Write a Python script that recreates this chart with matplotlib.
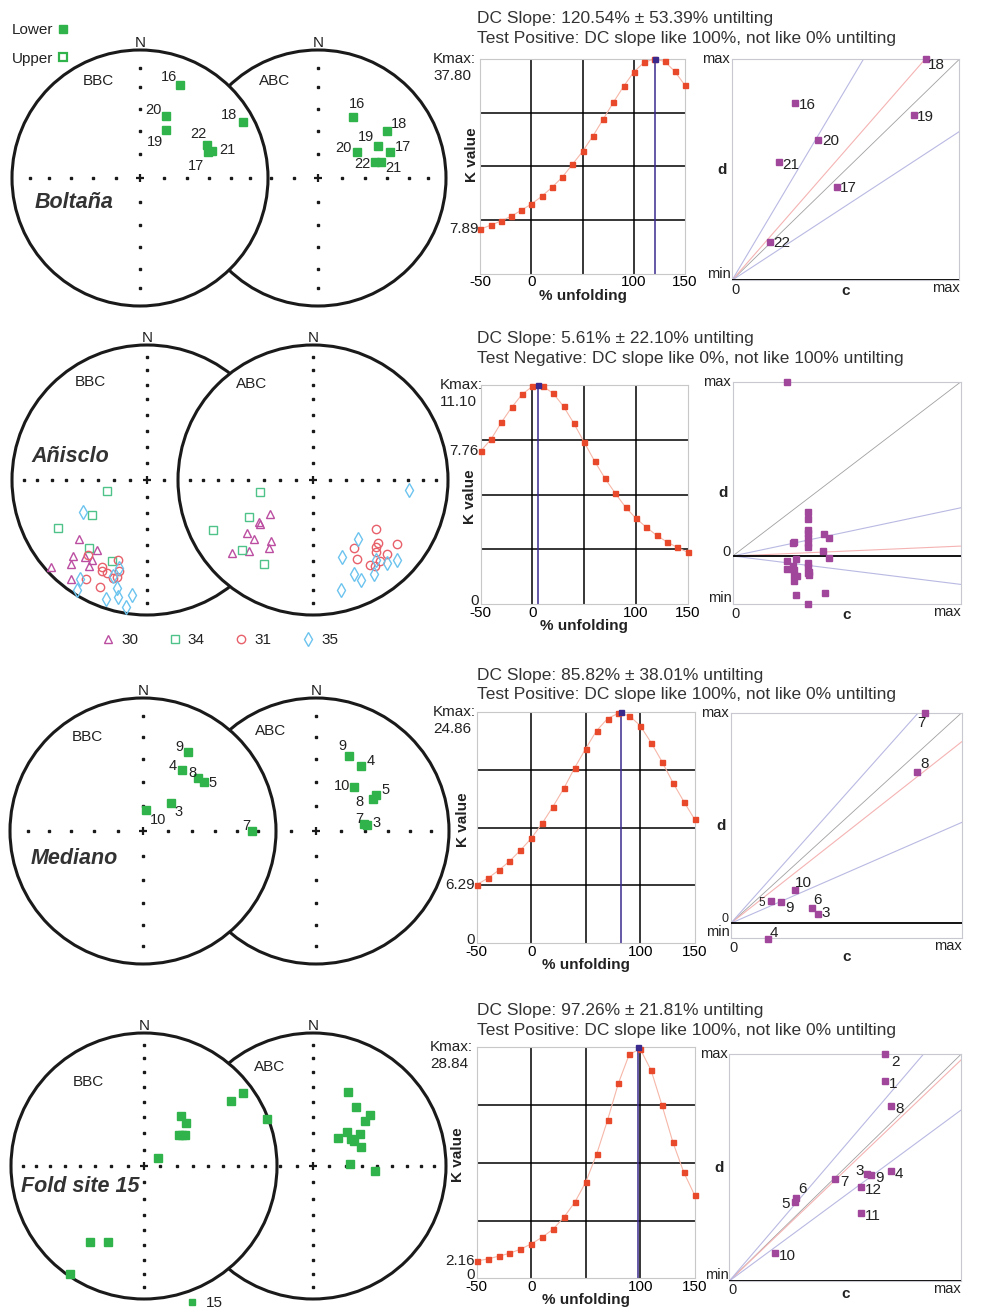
import numpy as np
import matplotlib.pyplot as plt
from matplotlib.patches import Circle
from matplotlib.lines import Line2D

plt.rcParams['font.family'] = ['Liberation Sans', 'DejaVu Sans']
plt.rcParams['text.color'] = '#222222'

W, H = 990, 1309

GREEN = '#2fb34a'
RED = '#e8492b'
PINK = '#f6b7a8'
NAVY = '#3b2a8e'
PURPLE = '#a0469b'
INK = '#1a1a1a'
C30, C34, C31, C35 = '#bb4ea0', '#4fc28a', '#e8606a', '#6cc4ee'

# ---------------- data ----------------
unfold = [-50, -40, -30, -20, -10, 0, 10, 20, 30, 40, 50, 60, 70, 80, 90, 100, 110, 120, 130, 140, 150]

# Boltaña
bol_ids = ['16', '20', '19', '18', '22', '21', '17']
bol_bbc_dec = [23.5, 22.9, 28.8, 61.4, 63.7, 69.4, 69.3]
bol_bbc_inc = [22.1, 46.1, 54.8, 9.5, 41.5, 39.7, 42.6]
bol_abc_dec = [30.0, 56.4, 61.4, 55.4, 74.0, 75.6, 70.5]
bol_abc_inc = [44.4, 59.7, 46.0, 35.1, 52.1, 47.7, 40.0]
bol_k = [7.89, 8.54, 9.30, 10.12, 11.18, 12.29, 13.63, 15.21, 16.97, 19.25, 21.53,
         24.22, 27.15, 30.13, 32.94, 35.46, 37.16, 37.75, 37.33, 35.57, 33.12]
bol_kmax, bol_peak = 37.80, 120.54
bol_dc_ids = ['18', '16', '19', '20', '21', '17', '22']
bol_dc_c = [0.852, 0.279, 0.801, 0.378, 0.207, 0.462, 0.166]
bol_dc_d = [1.0, 0.802, 0.748, 0.636, 0.535, 0.422, 0.175]

# Añisclo (upper hemisphere, sites 30, 34, 31, 35)
ani30_bbc_dec = [229, 215.3, 224.1, 218.7, 214.5, 222.2, 213.8, 227.6, 217.2]
ani30_bbc_inc = [-33.3, -36.6, -22.4, -27.5, -28.9, -17.3, -24.3, -4.4, -8.3]
ani34_bbc_dec = [254.8, 237.5, 241.8, 220.2, 203.6]
ani34_bbc_inc = [-64.7, -50.1, -26.0, -34.2, -34.9]
ani31_bbc_dec = [218.1, 199.8, 207.4, 206.2, 203.0, 197.4, 199.1, 211.7, 203.9, 197.4]
ani31_bbc_inc = [-29.8, -37.4, -28.5, -26.0, -25.8, -30.3, -24.5, -15.0, -14.5, -25.8]
ani35_bbc_dec = [243.1, 197.6, 214.2, 199.4, 212.3, 195.4, 199.2, 193.7, 187.4, 189.2]
ani35_bbc_inc = [-46.0, -32.0, -12.7, -25.5, -3.8, -18.2, -7.6, -11.6, -15.2, -4.9]
ani30_abc_dec = [232.1, 232.1, 230.6, 231.1, 225.3, 214.3, 213.0, 228.1, 222.2]
ani30_abc_inc = [-56.5, -48.3, -47.6, -37.2, -38.0, -44.4, -39.6, -20.4, -30.0]
ani34_abc_dec = [257.0, 240.2, 243.4, 225.2, 210.3]
ani34_abc_inc = [-57.0, -44.2, -18.4, -26.8, -29.0]
ani31_abc_dec = [127.8, 134.3, 127.3, 149.0, 136.6, 138.8, 135.2, 150.8, 140.6, 146.1, 144.4]
ani31_abc_inc = [-40.5, -33.4, -23.0, -40.6, -32.4, -29.8, -23.6, -33.2, -23.3, -25.0, -22.7]
ani35_abc_dec = [96.0, 142.6, 159.3, 141.5, 138.3, 133.3, 156.3, 147.1, 154.5, 165.5]
ani35_abc_inc = [-29.6, -44.3, -38.9, -25.7, -18.9, -15.1, -25.2, -18.4, -19.0, -16.9]
ani_k = [7.76, 8.35, 9.21, 9.97, 10.63, 11.03, 11.03, 10.68, 10.02, 9.16, 8.20,
         7.25, 6.38, 5.62, 4.91, 4.35, 3.90, 3.49, 3.15, 2.88, 2.63]
ani_kmax, ani_peak = 11.10, 5.61
ani_dc_c = [0.236, 0.328, 0.328, 0.328, 0.328, 0.328, 0.328, 0.328, 0.269, 0.263,
            0.401, 0.423, 0.397, 0.423, 0.236, 0.236, 0.276, 0.266, 0.270, 0.269,
            0.280, 0.270, 0.328, 0.328, 0.336, 0.328, 0.336, 0.279, 0.404, 0.328]
ani_dc_d = [1.0, 0.254, 0.210, 0.149, 0.130, 0.101, 0.076, 0.054, 0.082, 0.076,
            0.128, 0.105, 0.031, -0.010, -0.027, -0.076, -0.019, -0.057, -0.080, -0.109,
            -0.115, -0.141, -0.038, -0.065, -0.090, -0.099, -0.109, -0.224, -0.210, -0.277]

# Mediano
med_ids = ['9', '4', '8', '5', '3', '10', '7']
med_bbc_dec = [29.9, 32.3, 46.3, 51.4, 44.6, 9.3, 90.0]
med_bbc_inc = [32.2, 44.7, 41.9, 40.7, 65.8, 77.2, 18.8]
med_abc_dec = [23.7, 34.9, 60.8, 59.0, 83.3, 40.7, 81.7]
med_abc_inc = [38.3, 40.2, 49.6, 46.3, 58.4, 53.9, 59.8]
med_k = [6.29, 6.97, 7.82, 8.79, 9.97, 11.25, 12.86, 14.68, 16.64, 18.86, 20.90,
         22.82, 24.11, 24.70, 24.43, 23.36, 21.54, 19.50, 17.25, 15.22, 13.29]
med_kmax, med_peak = 24.86, 82.0
med_dc_ids = ['7', '8', '10', '5', '9', '6', '3', '4']
med_dc_c = [0.843, 0.808, 0.277, 0.175, 0.218, 0.354, 0.378, 0.160]
med_dc_d = [1.0, 0.720, 0.158, 0.108, 0.103, 0.073, 0.044, -0.073]

# Fold site 15
fold_bbc_dec = [53.8, 53.3, 68.9, 36.6, 44.3, 49.0, 53.1, 50.6, 60.9, 215.5, 205.4, 214.3]
fold_bbc_inc = [8.1, 19.9, 1.1, 51.5, 53.0, 61.2, 58.3, 59.6, 79.9, 30.8, 36.9, 2.1]
fold_abc_dec = [25.1, 36.1, 47.9, 48.8, 45.2, 55.7, 41.4, 55.2, 58.7, 68.4, 86.9, 94.9]
fold_abc_inc = [38.4, 44.4, 41.9, 47.0, 60.4, 55.0, 66.7, 61.2, 60.5, 57.8, 67.4, 51.2]
fold_k = [2.16, 2.41, 2.75, 3.12, 3.62, 4.29, 5.12, 6.12, 7.62, 9.49, 11.99,
          15.48, 19.73, 24.35, 27.97, 28.63, 25.97, 21.60, 16.98, 13.23, 10.36]
fold_kmax, fold_peak = 28.84, 98.2
fold_dc_ids = ['2', '1', '8', '4', '3', '9', '7', '12', '6', '5', '11', '10']
fold_dc_c = [0.671, 0.671, 0.699, 0.699, 0.593, 0.613, 0.458, 0.567, 0.286, 0.285, 0.567, 0.199]
fold_dc_d = [1.0, 0.884, 0.774, 0.485, 0.474, 0.469, 0.451, 0.416, 0.365, 0.349, 0.300, 0.124]

# DC slope lines (d/c of fit and bounds)
dc_fit = [1.178, 0.057, 0.862, 0.975]
dc_lo = [0.673, -0.163, 0.479, 0.754]
dc_hi = [1.73, 0.277, 1.231, 1.194]
dc_dmin = [0.0, -0.277, -0.071, 0.0]

titles = [('DC Slope: 120.54% ± 53.39% untilting', 'Test Positive: DC slope like 100%, not like 0% untilting'),
          ('DC Slope: 5.61% ± 22.10% untilting', 'Test Negative: DC slope like 0%, not like 100% untilting'),
          ('DC Slope: 85.82% ± 38.01% untilting', 'Test Positive: DC slope like 100%, not like 0% untilting'),
          ('DC Slope: 97.26% ± 21.81% untilting', 'Test Positive: DC slope like 100%, not like 0% untilting')]

# label offsets (points)
bol_bbc_off = {'16': (-8, 6), '20': (-9, 4), '19': (-8, -8.5), '18': (-10, 5), '22': (-6, 7.7), '21': (11, 0.7), '17': (-8.6, -9.6)}
bol_abc_off = {'16': (3, 9.6), '20': (-10.3, 2.4), '19': (-8.6, 6.3), '18': (9.1, 4.5), '22': (-8.9, -1.9), '21': (8.9, -4.3), '17': (9.1, 3.6)}
med_bbc_off = {'9': (-6.7, 4.1), '4': (-6.2, 2.6), '8': (-4.3, 3.4), '5': (6.2, -1), '3': (6, -6.7), '10': (8.6, -6.7), '7': (-4.3, 3.8)}
med_abc_off = {'9': (-4.8, 7.2), '4': (6.7, 3.6), '8': (-9.6, -1.7), '5': (7, 3.6), '3': (6.7, 1.2), '10': (-8.9, 0.5), '7': (-3.8, 3.4)}
bol_dc_off = {'18': (7.4, -3.8), '16': (8.9, -1.7), '19': (8.4, -1.7), '20': (9.1, -0.7), '21': (8.6, -2.2), '17': (8.4, -0.7), '22': (8.9, -0.7)}
med_dc_off = {'7': (-3.1, -7.7), '8': (5, 5.5), '10': (6.2, 4.8), '5': (-6.7, -1.9), '9': (6, -4.8), '6': (3.8, 5.8), '3': (5.3, 1), '4': (4.3, 3.8)}
fold_dc_off = {'2': (7.4, -5.5), '1': (5.8, -2.2), '8': (5.8, -2.4), '4': (5.8, -2.4), '3': (-5.3, 1.9), '9': (5.8, -2.2),
               '7': (6.2, -2.2), '12': (9.1, -2.4), '6': (5, 6.5), '5': (-7.2, -1.7), '11': (8.6, -2.2), '10': (8.6, -2.4)}

# ---------------- layout (pixels) ----------------
nets = [(140, 178, 128, 178, 15), (147, 480, 135, 166, 10), (143, 831, 133, 173, 15), (144, 1166, 133, 169, 10)]
kboxes = [(480.3, 58.7, 685, 274), (480.7, 385, 687.7, 604.3), (476.7, 711.7, 694.7, 943.3), (476.7, 1047.3, 694.7, 1278.3)]
dcboxes = [(732, 59.3, 959.3, 280.3), (732.7, 381.7, 961, 604.3), (730.7, 712.7, 961.7, 938.3), (729.3, 1054.3, 961, 1281)]
title_y = [(18, 38), (339, 358.5), (675.5, 695), (1010.5, 1030)]
kmax_x = [433, 440, 433, 430]
kval_pos = [(471.7, 155), (470, 497), (463, 820), (458, 1155)]
c_dy = [11, 11, 19, 13]

fig = plt.figure(figsize=(W / 100, H / 100), dpi=100)


def px_axes(box):
    l, t, r, b = box
    return fig.add_axes([l / W, 1 - b / H, (r - l) / W, (b - t) / H])


def ftext(x, y, s, **kw):
    fig.text(x / W, 1 - y / H, s, **kw)


def eqarea(dec, inc):
    d = np.radians(np.asarray(dec, float))
    r = np.sqrt(2) * np.sin(np.radians(90 - np.abs(np.asarray(inc, float))) / 2)
    return r * np.sin(d), r * np.cos(d)


def stereo_pair(cx, cy, R, sep, step, right_on_top=False):
    s = sep / R
    m = 1.2
    ax = fig.add_axes([(cx - m * R) / W, 1 - (cy + m * R) / H, (sep + 2 * m * R) / W, 2 * m * R / H])
    ax.set_xlim(-m, s + m)
    ax.set_ylim(-m, m)
    ax.axis('off')
    ax.patch.set_visible(False)
    incs = np.arange(90 - step, 0, -step)
    rr = np.sqrt(2) * np.sin(np.radians(90 - incs) / 2)
    tk = np.concatenate([rr, -rr])
    zero = np.zeros_like(tk)
    order = ((0, 1), (s, 3)) if right_on_top else ((s, 1), (0, 3))
    for x0, z in order:
        ax.add_patch(Circle((x0, 0), 1, facecolor='white', edgecolor=INK, lw=2.2, zorder=z))
        ax.plot(x0 + tk, zero, 's', ms=2.1, color=INK, zorder=z + 0.5)
        ax.plot(x0 + zero, tk, 's', ms=2.1, color=INK, zorder=z + 0.5)
        ax.plot([x0], [0], '+', ms=6, mew=1.6, color=INK, zorder=z + 0.5)
        ax.text(x0, 1.0, 'N', ha='center', va='bottom', fontsize=11, zorder=6)
    return ax, s


def net_points(ax, x0, dec, inc, ids=None, offs=None, **style):
    x, y = eqarea(dec, inc)
    ax.plot(x0 + x, y, ls='none', zorder=7, clip_on=False, **style)
    if ids:
        for i, lab in enumerate(ids):
            ax.annotate(lab, (x0 + x[i], y[i]), xytext=offs[lab], textcoords='offset points',
                        ha='center', va='center', fontsize=10.5, zorder=8)


def k_panel(i, k, kmax, peak, show_zero):
    l, t, r, b = kboxes[i]
    ax = px_axes(kboxes[i])
    ax.set_xlim(-50, 150)
    ax.set_ylim(0, kmax)
    for v in (0, 50, 100):
        ax.axvline(v, color='black', lw=1.1, zorder=1)
    for f in (0.25, 0.5, 0.75):
        ax.axhline(f * kmax, color='black', lw=1.1, zorder=1)
    ax.axvline(peak, color=NAVY, lw=1.1, zorder=2)
    ax.plot(unfold, k, color=PINK, lw=0.8, zorder=3)
    ax.plot(unfold, k, 's', color=RED, ms=3.6, zorder=4, clip_on=False)
    ax.plot([peak], [kmax], 's', color=NAVY, ms=3.6, zorder=5, clip_on=False)
    ax.set_xticks([-50, 0, 100, 150])
    ax.set_xticklabels(['-50', '0', '100', '150'])
    ax.tick_params(axis='x', length=0, pad=1, labelsize=11)
    ax.set_yticks([])
    for sp in ax.spines.values():
        sp.set_color('#c8c8c8')
    ax.annotate('% unfolding', (0.5, 0), xycoords='axes fraction', xytext=(0, -15.5),
                textcoords='offset points', ha='center', va='center', fontsize=11, fontweight='bold')
    ftext(kmax_x[i], t, 'Kmax:', ha='left', va='center', fontsize=11)
    ftext(kmax_x[i], t + 17, f'{kmax:.2f}', ha='left', va='center', fontsize=11)
    ftext(l - 2, b - (k[0] / kmax) * (b - t), f'{k[0]:.2f}', ha='right', va='center', fontsize=11)
    if show_zero:
        ftext(l - 2, b - 3, '0', ha='right', va='center', fontsize=11)
    kx, ky = kval_pos[i]
    ftext(kx, ky, 'K value', rotation=90, ha='center', va='center', fontsize=11, fontweight='bold')


def dc_panel(i, c, d, ids=None, offs=None, zero_label=False, zero_fs=10.5):
    l, t, r, b = dcboxes[i]
    ax = px_axes(dcboxes[i])
    ax.set_xlim(0, 1)
    ax.set_ylim(dc_dmin[i], 1)
    cc = np.array([0.0, 1.0])
    ax.plot(cc, cc, color='#a0a0a0', lw=0.6, zorder=2)
    ax.plot(cc, cc * dc_fit[i], color='#f5b3b3', lw=0.8, zorder=2)
    ax.plot(cc, cc * dc_lo[i], color='#b9b9e3', lw=0.8, zorder=2)
    ax.plot(cc, cc * dc_hi[i], color='#b9b9e3', lw=0.8, zorder=2)
    ax.axhline(0, color='black', lw=1.3, zorder=3)
    ax.plot(c, d, 's', color=PURPLE, ms=4.3, zorder=5, clip_on=False)
    if ids:
        for j, lab in enumerate(ids):
            fs = 8.5 if (i == 2 and lab == '5') else 11
            ax.annotate(lab, (c[j], d[j]), xytext=offs[lab], textcoords='offset points',
                        ha='center', va='center', fontsize=fs, zorder=6)
    ax.set_xticks([])
    ax.set_yticks([])
    for sp in ax.spines.values():
        sp.set_color('#c8c8d0')
    ftext(l - 2, t, 'max', ha='right', va='center', fontsize=10.5)
    ftext(l - 1, b - 6, 'min', ha='right', va='center', fontsize=10.5)
    ftext(l + 3, b + 9.5, '0', ha='center', va='center', fontsize=10.5)
    ftext(r, b + 8, 'max', ha='right', va='center', fontsize=10.5)
    ftext((l + r) / 2, b + c_dy[i], 'c', ha='center', va='center', fontsize=11, fontweight='bold')
    ftext(l - 10, (t + b) / 2, 'd', ha='center', va='center', fontsize=11, fontweight='bold')
    if zero_label:
        y0 = b - (0 - dc_dmin[i]) / (1 - dc_dmin[i]) * (b - t)
        ftext(l - 2, y0 - 4, '0', ha='right', va='center', fontsize=zero_fs)


# ---------------- titles ----------------
for (t1, t2), (y1, y2) in zip(titles, title_y):
    ftext(477.3, y1, t1, ha='left', va='center', fontsize=12.5, color='#333333')
    ftext(477.3, y2, t2, ha='left', va='center', fontsize=12.5, color='#333333')

green = dict(marker='s', color=GREEN, ms=6)

# ---------------- row 1: Boltaña ----------------
ax, s = stereo_pair(*nets[0])
net_points(ax, 0, bol_bbc_dec, bol_bbc_inc, bol_ids, bol_bbc_off, **green)
net_points(ax, s, bol_abc_dec, bol_abc_inc, bol_ids, bol_abc_off, **green)
ax.text(-0.328, 0.758, 'BBC', ha='center', va='center', fontsize=11, zorder=6)
ax.text(s - 0.336, 0.758, 'ABC', ha='center', va='center', fontsize=11, zorder=6)
ax.text(-0.516, -0.1875, 'Boltaña', ha='center', va='center', fontsize=15.5,
        fontweight='bold', fontstyle='italic', color='#333333', zorder=6)
hem = [Line2D([], [], ls='none', marker='s', color=GREEN, ms=6, label='Lower'),
       Line2D([], [], ls='none', marker='s', mfc='white', mec=GREEN, mew=1.6, ms=5.5, label='Upper')]
ax.legend(handles=hem, loc='upper left', bbox_to_anchor=(12 / W, 1 - 23 / H), bbox_transform=fig.transFigure,
          markerfirst=False, frameon=False, fontsize=11, handlelength=0.6, handletextpad=0.3,
          labelspacing=0.95, borderpad=0, borderaxespad=0)
k_panel(0, bol_k, bol_kmax, bol_peak, False)
dc_panel(0, bol_dc_c, bol_dc_d, bol_dc_ids, bol_dc_off)

# ---------------- row 2: Añisclo ----------------
ax, s = stereo_pair(*nets[1], right_on_top=True)
hollow = dict(mfc='none', mew=1.0)
groups = [(ani30_bbc_dec, ani30_bbc_inc, ani30_abc_dec, ani30_abc_inc, '^', C30, 5.5, '30'),
          (ani34_bbc_dec, ani34_bbc_inc, ani34_abc_dec, ani34_abc_inc, 's', C34, 5.5, '34'),
          (ani31_bbc_dec, ani31_bbc_inc, ani31_abc_dec, ani31_abc_inc, 'o', C31, 6, '31'),
          (ani35_bbc_dec, ani35_bbc_inc, ani35_abc_dec, ani35_abc_inc, 'd', C35, 7, '35')]
handles = []
for bd, bi, ad, ai, mk, col, ms, lab in groups:
    net_points(ax, 0, bd, bi, marker=mk, mec=col, ms=ms, **hollow)
    net_points(ax, s, ad, ai, marker=mk, mec=col, ms=ms, **hollow)
    handles.append(Line2D([], [], ls='none', marker=mk, mec=col, ms=ms, label=lab, **hollow))
ax.text(-0.422, 0.724, 'BBC', ha='center', va='center', fontsize=11, zorder=6)
ax.text(s - 0.452, 0.709, 'ABC', ha='center', va='center', fontsize=11, zorder=6)
ax.text(-0.57, 0.173, 'Añisclo', ha='center', va='center', fontsize=15.5,
        fontweight='bold', fontstyle='italic', color='#333333', zorder=6)
ax.legend(handles=handles, loc='center', bbox_to_anchor=(220 / W, 1 - 640 / H), bbox_transform=fig.transFigure,
          ncol=4, frameon=False, fontsize=11, handlelength=0.8, handletextpad=0.45, columnspacing=2.0,
          borderpad=0, borderaxespad=0)
k_panel(1, ani_k, ani_kmax, ani_peak, True)
dc_panel(1, ani_dc_c, ani_dc_d, zero_label=True)

# ---------------- row 3: Mediano ----------------
ax, s = stereo_pair(*nets[2])
net_points(ax, 0, med_bbc_dec, med_bbc_inc, med_ids, med_bbc_off, **green)
net_points(ax, s, med_abc_dec, med_abc_inc, med_ids, med_abc_off, **green)
ax.text(-0.421, 0.709, 'BBC', ha='center', va='center', fontsize=11, zorder=6)
ax.text(s - 0.338, 0.752, 'ABC', ha='center', va='center', fontsize=11, zorder=6)
ax.text(-0.515, -0.205, 'Mediano', ha='center', va='center', fontsize=15.5,
        fontweight='bold', fontstyle='italic', color='#333333', zorder=6)
k_panel(2, med_k, med_kmax, med_peak, True)
dc_panel(2, med_dc_c, med_dc_d, med_dc_ids, med_dc_off, zero_label=True, zero_fs=9)

# ---------------- row 4: Fold site 15 ----------------
ax, s = stereo_pair(*nets[3])
net_points(ax, 0, fold_bbc_dec, fold_bbc_inc, **green)
net_points(ax, s, fold_abc_dec, fold_abc_inc, **green)
ax.text(-0.421, 0.629, 'BBC', ha='center', va='center', fontsize=11, zorder=6)
ax.text(s - 0.33, 0.747, 'ABC', ha='center', va='center', fontsize=11, zorder=6)
ax.text(-0.481, -0.156, 'Fold site 15', ha='center', va='center', fontsize=15.5,
        fontweight='bold', fontstyle='italic', color='#333333', zorder=6)
ax.legend(handles=[Line2D([], [], ls='none', marker='s', color=GREEN, ms=5, label='15')],
          loc='center', bbox_to_anchor=(204 / W, 1 - 1303 / H), bbox_transform=fig.transFigure,
          frameon=False, fontsize=11, handlelength=0.8, handletextpad=0.5, borderpad=0, borderaxespad=0)
k_panel(3, fold_k, fold_kmax, fold_peak, True)
dc_panel(3, fold_dc_c, fold_dc_d, fold_dc_ids, fold_dc_off)

fig.savefig('out.png', dpi=100)
